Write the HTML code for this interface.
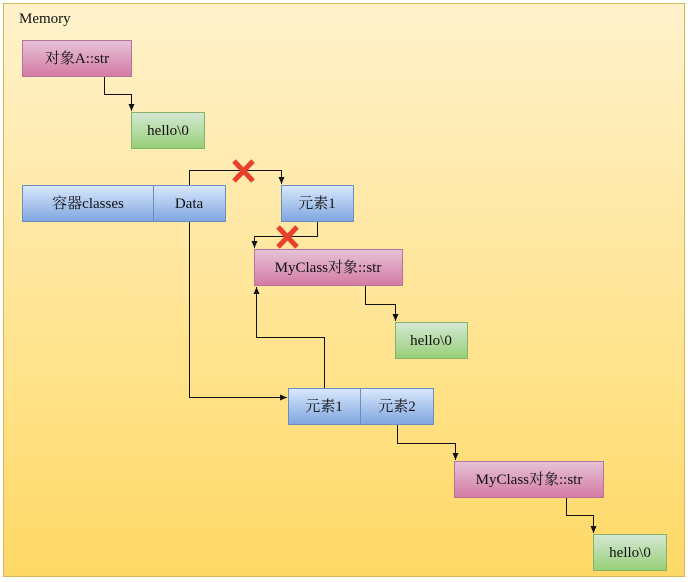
<!DOCTYPE html>
<html><head><meta charset="utf-8"><style>
html,body{margin:0;padding:0;width:690px;height:582px;overflow:hidden;background:#fff}
svg{display:block}
text{font-family:"Liberation Serif","Noto Serif CJK SC","Noto Sans CJK SC",serif;font-size:15px;fill:#111}
</style></head><body>
<svg width="690" height="582" viewBox="0 0 690 582" xmlns="http://www.w3.org/2000/svg">
<defs>
<linearGradient id="bg" x1="0" y1="0" x2="0" y2="1"><stop offset="0" stop-color="#fff2cc"/><stop offset="1" stop-color="#ffd966"/></linearGradient>
<linearGradient id="pk" x1="0" y1="0" x2="0" y2="1"><stop offset="0" stop-color="#e6c3d8"/><stop offset="1" stop-color="#d47aa3"/></linearGradient>
<linearGradient id="bl" x1="0" y1="0" x2="0" y2="1"><stop offset="0" stop-color="#dae8fc"/><stop offset="1" stop-color="#7ea6e0"/></linearGradient>
<linearGradient id="gr" x1="0" y1="0" x2="0" y2="1"><stop offset="0" stop-color="#d5e8d4"/><stop offset="1" stop-color="#97d077"/></linearGradient>
<marker id="a" markerWidth="8" markerHeight="8" refX="7" refY="4" orient="auto" markerUnits="userSpaceOnUse"><path d="M0,1 L7,4 L0,7 Z" fill="#111"/></marker>
</defs>
<rect x="3.5" y="3.5" width="681" height="573" fill="url(#bg)" stroke="#d6b656"/>
<text x="19" y="23">Memory</text>

<g stroke-width="1">
<rect x="22.5" y="40.5" width="109" height="36" fill="url(#pk)" stroke="#b5739d"/>
<rect x="131.5" y="112.5" width="73" height="36" fill="url(#gr)" stroke="#82b366"/>
<rect x="22.5" y="185.5" width="131" height="36" fill="url(#bl)" stroke="#6c8ebf"/>
<rect x="153.5" y="185.5" width="72" height="36" fill="url(#bl)" stroke="#6c8ebf"/>
<rect x="281.5" y="185.5" width="72" height="36" fill="url(#bl)" stroke="#6c8ebf"/>
<rect x="254.5" y="249.5" width="148" height="36" fill="url(#pk)" stroke="#b5739d"/>
<rect x="395.5" y="322.5" width="72" height="36" fill="url(#gr)" stroke="#82b366"/>
<rect x="288.5" y="388.5" width="72" height="36" fill="url(#bl)" stroke="#6c8ebf"/>
<rect x="360.5" y="388.5" width="73" height="36" fill="url(#bl)" stroke="#6c8ebf"/>
<rect x="454.5" y="461.5" width="149" height="36" fill="url(#pk)" stroke="#b5739d"/>
<rect x="593.5" y="534.5" width="73" height="36" fill="url(#gr)" stroke="#82b366"/>
</g>

<g fill="none" stroke="#111" stroke-width="1">
<path d="M104.5,77 V94.5 H131.5 V111" marker-end="url(#a)"/>
<path d="M189.5,185 V170.5 H281.5 V184" marker-end="url(#a)"/>
<path d="M317.5,222 V236.5 H254.5 V248" marker-end="url(#a)"/>
<path d="M189.5,222 V397.5 H287" marker-end="url(#a)"/>
<path d="M324.5,388 V337.5 H256.5 V287" marker-end="url(#a)"/>
<path d="M365.5,286 V304.5 H395.5 V321" marker-end="url(#a)"/>
<path d="M397.5,425 V443.5 H455.5 V460" marker-end="url(#a)"/>
<path d="M566.5,498 V515.5 H593.5 V533" marker-end="url(#a)"/>
</g>

<g stroke="#e8402a" stroke-width="5" stroke-linecap="butt">
<path d="M234,161 L253,181 M253,161 L234,181"/>
<path d="M278,227 L297,247 M297,227 L278,247"/>
</g>

<g text-anchor="middle">
<text x="77" y="63">对象A::str</text>
<text x="168" y="135">hello\0</text>
<text x="88" y="208">容器classes</text>
<text x="189" y="208">Data</text>
<text x="317" y="208">元素1</text>
<text x="328" y="272">MyClass对象::str</text>
<text x="431" y="345">hello\0</text>
<text x="324" y="411">元素1</text>
<text x="397" y="411">元素2</text>
<text x="529" y="484">MyClass对象::str</text>
<text x="630" y="557">hello\0</text>
</g>
</svg>
</body></html>
